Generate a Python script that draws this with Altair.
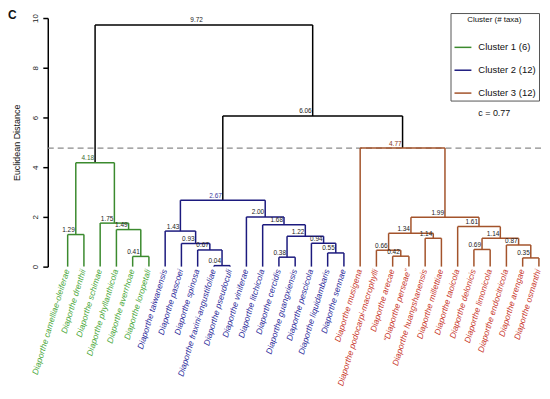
import altair as alt
import pandas as pd

# ---------------- data ----------------
leaves = [
    "Diaporthe camelliae-oleiferae", "Diaporthe drenthii", "Diaporthe schimae",
    "Diaporthe phyllanthicola", "Diaporthe averrhoae", "Diaporthe loropetali",
    "Diaporthe taiwanensis", "Diaporthe pascoei", "Diaporthe spinosa",
    "Diaporthe fraxini-angustifoliae", "Diaporthe pseudoculi", "Diaporthe viniferae",
    "Diaporthe litchicola", "Diaporthe cercidis", "Diaporthe guangxiensis",
    "Diaporthe pescicola", "Diaporthe liquidambaris", "Diaporthe sennae",
    "Diaporthe musigena", "Diaporthe podocarpi-macrophylli", "Diaporthe arecae",
    "\u201cDiaporthe perseae\u201d", "Diaporthe huangshanensis", "Diaporthe millettiae",
    "Diaporthe taoicola", "Diaporthe delonicis", "Diaporthe limonicola",
    "Diaporthe endocitricola", "Diaporthe arengae", "Diaporthe osmanthi",
]
leaf_cluster = [
    "Cluster 1 (6)", "Cluster 1 (6)", "Cluster 1 (6)", "Cluster 1 (6)", "Cluster 1 (6)", "Cluster 1 (6)",
    "Cluster 2 (12)", "Cluster 2 (12)", "Cluster 2 (12)", "Cluster 2 (12)", "Cluster 2 (12)", "Cluster 2 (12)",
    "Cluster 2 (12)", "Cluster 2 (12)", "Cluster 2 (12)", "Cluster 2 (12)", "Cluster 2 (12)", "Cluster 2 (12)",
    "Cluster 3 (12)", "Cluster 3 (12)", "Cluster 3 (12)", "Cluster 3 (12)", "Cluster 3 (12)", "Cluster 3 (12)",
    "Cluster 3 (12)", "Cluster 3 (12)", "Cluster 3 (12)", "Cluster 3 (12)", "Cluster 3 (12)", "Cluster 3 (12)",
]
# merges: (node, child a, child b, height); ints are leaf indices
merges = [
    ("n1", 0, 1, 1.29), ("n2", 4, 5, 0.41), ("n3", 3, "n2", 1.49), ("n4", 2, "n3", 1.75),
    ("n5", "n1", "n4", 4.18),
    ("n6", 9, 10, 0.04), ("n7", 8, "n6", 0.67), ("n8", 7, "n7", 0.93), ("n9", 6, "n8", 1.43),
    ("n10", 13, 14, 0.38), ("n11", 16, 17, 0.55), ("n12", 15, "n11", 0.94),
    ("n13", "n10", "n12", 1.22), ("n14", 12, "n13", 1.68), ("n15", 11, "n14", 2.00),
    ("n16", "n9", "n15", 2.67),
    ("n17", 20, 21, 0.42), ("n18", 19, "n17", 0.66), ("n19", 22, 23, 1.14),
    ("n20", "n18", "n19", 1.34), ("n21", 25, 26, 0.69), ("n22", 28, 29, 0.35),
    ("n23", 27, "n22", 0.87), ("n24", "n21", "n23", 1.14), ("n25", 24, "n24", 1.61),
    ("n26", "n20", "n25", 1.99), ("n27", 18, "n26", 4.77),
    ("n28", "n16", "n27", 6.06), ("n29", "n5", "n28", 9.72),
]
cut_height = 4.77
coph_c = "c = 0.77"

clusters = ["Cluster 1 (6)", "Cluster 2 (12)", "Cluster 3 (12)"]
line_colors = ["#3b8a2e", "#1c1a7e", "#a3532b"]
label_colors = {"Cluster 1 (6)": "#4aa83a", "Cluster 2 (12)": "#2b2a9a", "Cluster 3 (12)": "#c9372c"}
top_label_colors = {"n5": "#3b6a2e", "n16": "#3a3aa0", "n27": "#8a3a20"}

# ---------------- derived geometry (tree layout) ----------------
pos = {i: float(i) for i in range(len(leaves))}
hgt = {i: 0.0 for i in range(len(leaves))}
members = {i: {i} for i in range(len(leaves))}
for name, a, b, h in merges:
    pos[name] = (pos[a] + pos[b]) / 2
    hgt[name] = h
    members[name] = members[a] | members[b]

def node_cluster(n):
    cl = {leaf_cluster[i] for i in members[n]}
    return cl.pop() if len(cl) == 1 else None

col_rows, blk_rows, lab_rows = [], [], []
for name, a, b, h in merges:
    c = node_cluster(name)
    segs = [
        (pos[a], pos[b], h, h),
        (pos[a], pos[a], hgt[a], h),
        (pos[b], pos[b], hgt[b], h),
    ]
    for x1, x2, y1, y2 in segs:
        row = {"x": x1, "x2": x2, "y": y1, "y2": y2}
        if c is None:
            blk_rows.append(row)
        else:
            row["cluster"] = c
            col_rows.append(row)
    lab_rows.append({
        "x": pos[name], "y": h, "label": f"{h:.2f}",
        "col": top_label_colors.get(name, "#222222"),
    })

seg_col = pd.DataFrame(col_rows)
seg_blk = pd.DataFrame(blk_rows)
node_lab = pd.DataFrame(lab_rows)
leaf_df = pd.DataFrame({
    "x": list(range(len(leaves))), "y": [0.0] * len(leaves), "name": leaves,
    "col": [label_colors[c] for c in leaf_cluster],
})
cut_df = pd.DataFrame({"y": [cut_height]})

FONT = "Liberation Sans"
xs = alt.Scale(domain=[-1.224, 29.19], nice=False, zero=False)
ys = alt.Scale(domain=[0, 10], nice=False, zero=True)

X = lambda f: alt.X(f, type="quantitative", scale=xs, axis=None)

cut = alt.Chart(cut_df).mark_rule(color="#8a8a8a", strokeDash=[6, 4], strokeWidth=1.2).encode(
    y=alt.Y("y:Q", scale=ys, axis=alt.Axis(
        title="Euclidean Distance", values=[0, 2, 4, 6, 8, 10], grid=False,
        labelAngle=270, labelAlign="center", labelBaseline="bottom", labelPadding=3,
        labelFontSize=8, labelFont=FONT, labelColor="#222",
        titleFont=FONT, titleFontSize=9, titleFontWeight="normal", titlePadding=10,
        titleColor="#111",
        domainColor="black", domainWidth=1.5, tickColor="black", tickWidth=1.5, tickSize=5,
    )),
    x=alt.value(0), x2=alt.value(497),
)

black_lines = alt.Chart(seg_blk).mark_rule(color="black", strokeWidth=1.5).encode(
    x=X("x"), x2="x2", y=alt.Y("y:Q", scale=ys), y2="y2",
)

col_lines = alt.Chart(seg_col).mark_rule(strokeWidth=1.5).encode(
    x=X("x"), x2="x2", y=alt.Y("y:Q", scale=ys), y2="y2",
    color=alt.Color("cluster:N", scale=alt.Scale(domain=clusters, range=line_colors),
                    legend=alt.Legend(
                        title="Cluster (# taxa)", orient="none", legendX=405, legendY=-5,
                        symbolType="stroke", symbolSize=289, symbolStrokeWidth=1.5,
                        strokeColor="#555", fillColor="white", padding=3,
                        rowPadding=9, titlePadding=14, titleFontSize=8,
                        titleFontWeight="normal", titleFont=FONT, titleAnchor="middle",
                        titleAlign="center", titleColor="#111",
                        labelFont=FONT, labelFontSize=9.5,
                        labelColor="#111", labelOffset=6,
                    )),
)

node_text = alt.Chart(node_lab).mark_text(
    font=FONT, fontSize=6.5, align="right", baseline="bottom", dx=-1, dy=-1.5,
).encode(x=X("x"), y=alt.Y("y:Q", scale=ys), text="label:N", color=alt.Color("col:N", scale=None))

leaf_text = alt.Chart(leaf_df).mark_text(
    font=FONT, fontSize=8.5, fontStyle="italic", align="right", baseline="middle",
    angle=287, dx=-3,
).encode(x=X("x"), y=alt.Y("y:Q", scale=ys), text="name:N", color=alt.Color("col:N", scale=None))

ctext = alt.Chart(pd.DataFrame({"t": [coph_c]})).mark_text(
    font=FONT, fontSize=9, align="center", baseline="middle", color="#111",
).encode(text="t:N", x=alt.value(449), y=alt.value(96))

panel = alt.Chart(pd.DataFrame({"t": ["C"]})).mark_text(
    font=FONT, fontSize=12, fontWeight="bold", align="left", baseline="top", color="#111",
).encode(text="t:N", x=alt.value(-40), y=alt.value(-8))

chart = alt.layer(cut, black_lines, col_lines, node_text, leaf_text, ctext, panel).properties(
    width=497, height=250,
    autosize=alt.AutoSizeParams(type="none"),
    padding={"left": 40, "top": 9, "right": 0, "bottom": 124},
    background="white",
).configure_view(stroke=None)

chart.save("out.html", embed_options={"renderer": "svg", "actions": False})
